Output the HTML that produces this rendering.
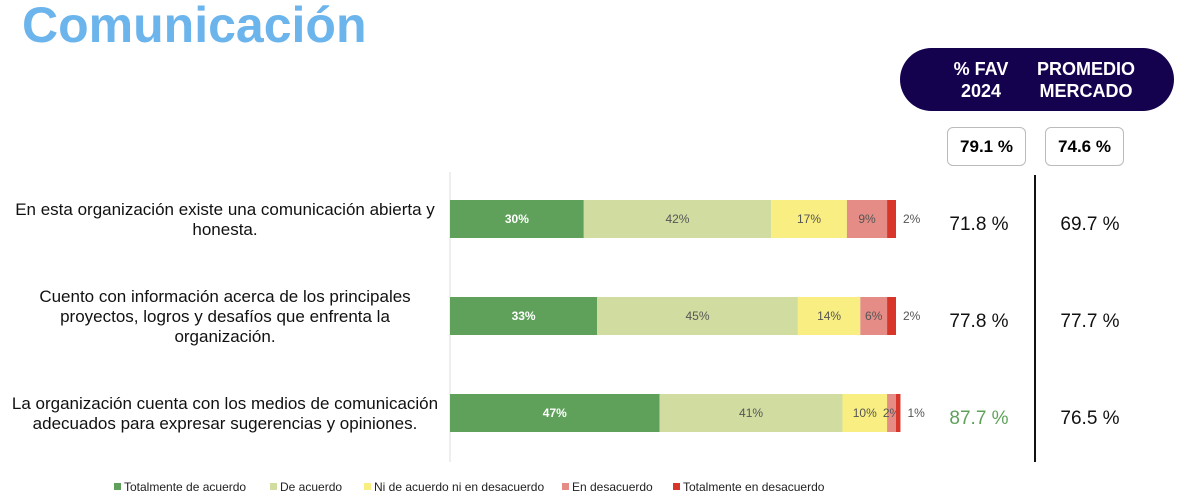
<!DOCTYPE html>
<html><head><meta charset="utf-8"><style>
body{margin:0;width:1200px;height:500px;background:#fff;font-family:"Liberation Sans",sans-serif;position:relative;overflow:hidden}
.t{position:absolute}
</style></head><body>
<div class="t" style="left:22px;top:-4px;font-size:50px;font-weight:bold;color:#6cb4ec">Comunicación</div>
<div class="t" style="left:900px;top:48px;width:274px;height:63px;border-radius:32px;background:#15024f;color:#fff;font-weight:bold;font-size:18px;line-height:22px">
 <div class="t" style="left:40px;top:10px;width:82px;text-align:center">% FAV<br>2024</div>
 <div class="t" style="left:128px;top:10px;width:116px;text-align:center">PROMEDIO<br>MERCADO</div>
</div>
<div class="t" style="left:947px;top:127px;width:77px;height:37px;border:1px solid #bbb;border-radius:6px;text-align:center;line-height:37px;font-weight:bold;font-size:17px">79.1 %</div>
<div class="t" style="left:1045px;top:127px;width:77px;height:37px;border:1px solid #bbb;border-radius:6px;text-align:center;line-height:37px;font-weight:bold;font-size:17px">74.6 %</div>
<div class="t" style="left:1034px;top:175px;width:2px;height:287px;background:#111"></div>
<svg class="t" style="left:0;top:0" width="1200" height="500" id="chart"></svg>
<script>
const questions=["En esta organización existe una comunicación abierta y|honesta.","Cuento con información acerca de los principales|proyectos, logros y desafíos que enfrenta la|organización.","La organización cuenta con los medios de comunicación|adecuados para expresar sugerencias y opiniones."];
const totAcuerdo=[30,33,47];
const deAcuerdo=[42,45,41];
const ni=[17,14,10];
const desacuerdo=[9,6,2];
const totDes=[2,2,1];
const favValues=["71.8 %","77.8 %","87.7 %"];
const marketValues=["69.7 %","77.7 %","76.5 %"];
const seriesNames=["Totalmente de acuerdo","De acuerdo","Ni de acuerdo ni en desacuerdo","En desacuerdo","Totalmente en desacuerdo"];
const colors=["#5fa15a","#d1dca1","#f8ee82","#e48c85","#d8362b"];
const series=[totAcuerdo,deAcuerdo,ni,desacuerdo,totDes];
const svg=document.getElementById('chart');
const NS="http://www.w3.org/2000/svg";
const x0=450, xs=v=>v*4.46, rowY=i=>219+i*97, bh=38;
function mk(tag,a){const e=document.createElementNS(NS,tag);for(const k in a)e.setAttribute(k,a[k]);svg.appendChild(e);return e;}
const ax=mk('line',{x1:450,y1:172,x2:450,y2:462,stroke:'#ddd'});


questions.forEach((q,i)=>{
  const lines=q.split('|');const cy=rowY(i);
  lines.forEach((l,j)=>{const t=mk('text',{x:225,y:cy+6+(j-(lines.length-1)/2)*20,'text-anchor':'middle','font-size':17,fill:'#111'});t.textContent=l;
  
  });
  let acc=0;
  series.forEach((s,k)=>{
    const v=s[i];const x=x0+xs(acc);const w=xs(v);
    const r=mk('rect',{x:x,y:cy-bh/2,width:w,height:bh,fill:colors[k]});
    
    
    const last=k===series.length-1;
    const tx=last?x+w+7:x+w/2;
    const t=mk('text',{x:tx,y:cy+4,'text-anchor':last?'start':'middle','font-size':12,fill:k===0?'#fff':'#555','font-weight':k===0?'bold':'normal'});
    t.textContent=v+'%';
    
    
    acc+=v;
  });
  const f=mk('text',{x:979,y:cy+11,'text-anchor':'middle','font-size':19,fill:i===2?'#5fa15a':'#111'});f.textContent=favValues[i];
  
  
  const m=mk('text',{x:1090,y:cy+11,'text-anchor':'middle','font-size':19,fill:'#111'});m.textContent=marketValues[i];
  
  
});
const lx=[114,270,364,562,673];
seriesNames.forEach((n,k)=>{
  const r=mk('rect',{x:lx[k],y:483,width:7,height:7,fill:colors[k]});
  
  
  const t=mk('text',{x:lx[k]+10,y:491,'font-size':12,fill:'#222'});t.textContent=n;
  
  
});
</script>
</body></html>
